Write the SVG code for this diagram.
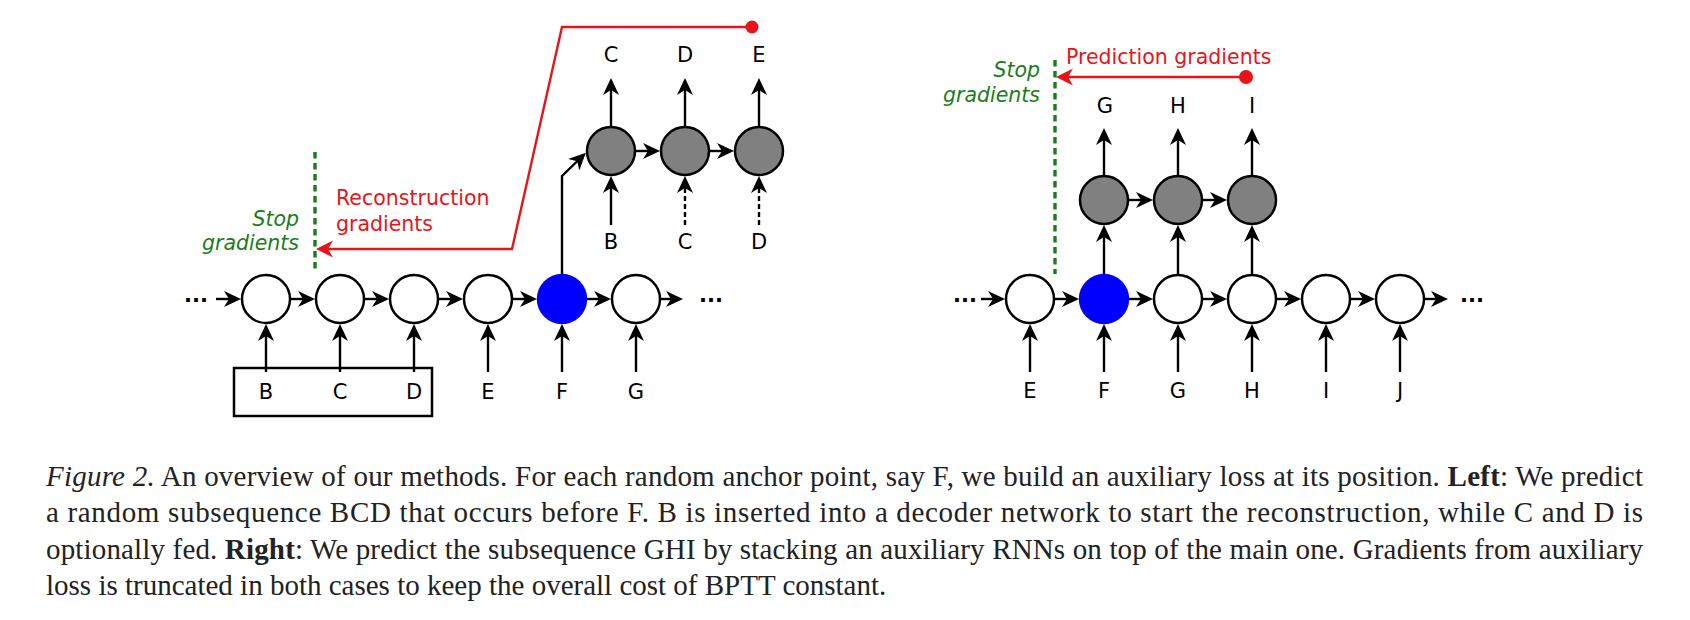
<svg xmlns="http://www.w3.org/2000/svg" width="1690" height="620" viewBox="0 0 1690 620">
<style>
.n{fill:#fff;stroke:#000;stroke-width:2.5}
.g{fill:#808080;stroke:#000;stroke-width:2.5}
.b{fill:#0000ff;stroke:none}
.e{fill:none;stroke:#000;stroke-width:2.4;marker-end:url(#ah)}
.d{fill:none;stroke:#000;stroke-width:2.4;stroke-dasharray:5 3;marker-end:url(#ah)}
.r{fill:none;stroke:#e8141a;stroke-width:2.4;stroke-linejoin:miter;marker-end:url(#ar)}
.sg{stroke:#1b7c1b;stroke-width:3.4;stroke-dasharray:6.5 4.5}
.t{font-family:"DejaVu Sans","Liberation Sans",sans-serif;font-size:21px;fill:#000;text-anchor:middle}
.dots{font-family:"DejaVu Sans",sans-serif;font-size:21px;font-weight:bold;fill:#000;text-anchor:middle}
.gr{font-family:"DejaVu Sans",sans-serif;font-size:20.5px;font-style:italic;fill:#1b7c1b;text-anchor:end}
.rd{font-family:"DejaVu Sans",sans-serif;font-size:20.5px;fill:#e8141a}
.cap{font-family:"Liberation Serif","Times New Roman",serif;font-size:29px;fill:#222}
</style>
<defs>
<marker id="ah" markerUnits="userSpaceOnUse" markerWidth="20" markerHeight="20" viewBox="0 -10 20 20" refX="6" refY="0" orient="auto"><path d="M0,-8 L17,0 L0,8 L5,0 Z" fill="#000"/></marker>
<marker id="ar" markerUnits="userSpaceOnUse" markerWidth="20" markerHeight="20" viewBox="0 -10 20 20" refX="5" refY="0" orient="auto"><path d="M0,-8.5 L17,0 L0,8.5 L5,0 Z" fill="#e8141a"/></marker>
</defs>

<g id="connectors">
<line class="e" x1="216" y1="299" x2="230" y2="299"/>
<line class="e" x1="291" y1="299" x2="304" y2="299"/>
<line class="e" x1="365" y1="299" x2="378" y2="299"/>
<line class="e" x1="439" y1="299" x2="452" y2="299"/>
<line class="e" x1="513" y1="299" x2="526" y2="299"/>
<line class="e" x1="587" y1="299" x2="600" y2="299"/>
<line class="e" x1="661" y1="299" x2="672" y2="299"/>
<line class="e" x1="266" y1="372" x2="266" y2="335"/>
<line class="e" x1="340" y1="372" x2="340" y2="335"/>
<line class="e" x1="414" y1="372" x2="414" y2="335"/>
<line class="e" x1="488" y1="372" x2="488" y2="335"/>
<line class="e" x1="562" y1="372" x2="562" y2="335"/>
<line class="e" x1="636" y1="372" x2="636" y2="335"/>
<path class="e" d="M562,275 L562,176 L578,160.5"/>
<line class="e" x1="636" y1="151" x2="649" y2="151"/>
<line class="e" x1="710" y1="151" x2="723" y2="151"/>
<line class="e" x1="611" y1="126" x2="611" y2="89"/>
<line class="e" x1="685" y1="126" x2="685" y2="89"/>
<line class="e" x1="759" y1="126" x2="759" y2="89"/>
<line class="e" x1="611" y1="225" x2="611" y2="187"/>
<line class="d" x1="685" y1="225" x2="685" y2="187"/>
<line class="d" x1="759" y1="225" x2="759" y2="187"/>
<line class="sg" x1="315" y1="152" x2="315" y2="273"/>
<path class="r" d="M752,27 L562,27 L512,249 L328,249"/>
<circle cx="752" cy="27" r="6.5" fill="#e8141a"/>
<line class="e" x1="981" y1="299" x2="994" y2="299"/>
<line class="e" x1="1055" y1="299" x2="1068" y2="299"/>
<line class="e" x1="1129" y1="299" x2="1142" y2="299"/>
<line class="e" x1="1203" y1="299" x2="1216" y2="299"/>
<line class="e" x1="1277" y1="299" x2="1290" y2="299"/>
<line class="e" x1="1351" y1="299" x2="1364" y2="299"/>
<line class="e" x1="1425" y1="299" x2="1437" y2="299"/>
<line class="e" x1="1030" y1="372" x2="1030" y2="335"/>
<line class="e" x1="1104" y1="372" x2="1104" y2="335"/>
<line class="e" x1="1178" y1="372" x2="1178" y2="335"/>
<line class="e" x1="1252" y1="372" x2="1252" y2="335"/>
<line class="e" x1="1326" y1="372" x2="1326" y2="335"/>
<line class="e" x1="1400" y1="372" x2="1400" y2="335"/>
<line class="e" x1="1104" y1="274" x2="1104" y2="236"/>
<line class="e" x1="1178" y1="274" x2="1178" y2="236"/>
<line class="e" x1="1252" y1="274" x2="1252" y2="236"/>
<line class="e" x1="1129" y1="200" x2="1142" y2="200"/>
<line class="e" x1="1203" y1="200" x2="1216" y2="200"/>
<line class="e" x1="1104" y1="175" x2="1104" y2="139"/>
<line class="e" x1="1178" y1="175" x2="1178" y2="139"/>
<line class="e" x1="1252" y1="175" x2="1252" y2="139"/>
<line class="sg" x1="1055" y1="60" x2="1055" y2="274"/>
<path class="r" d="M1246,77 L1068,77"/>
<circle cx="1246" cy="77" r="7" fill="#e8141a"/>
</g>

<g id="L-dots-in"><text class="dots" x="196" y="302">...</text></g>
<g id="L-h1"><circle class="n" cx="266" cy="299" r="24"/></g>
<g id="L-h2"><circle class="n" cx="340" cy="299" r="24"/></g>
<g id="L-h3"><circle class="n" cx="414" cy="299" r="24"/></g>
<g id="L-h4"><circle class="n" cx="488" cy="299" r="24"/></g>
<g id="L-h5"><circle class="b" cx="562" cy="299" r="25.2"/></g>
<g id="L-h6"><circle class="n" cx="636" cy="299" r="24"/></g>
<g id="L-dots-out"><text class="dots" x="711" y="302">...</text></g>
<g id="L-box"><rect x="234" y="368" width="198" height="48" fill="none" stroke="#000" stroke-width="2.5"/></g>
<g id="L-inputs">
<text class="t" x="266" y="399">B</text>
<text class="t" x="340" y="399">C</text>
<text class="t" x="414" y="399">D</text>
<text class="t" x="488" y="399">E</text>
<text class="t" x="562" y="399">F</text>
<text class="t" x="636" y="399">G</text>
</g>
<g id="L-d1"><circle class="g" cx="611" cy="151" r="24"/></g>
<g id="L-d2"><circle class="g" cx="685" cy="151" r="24"/></g>
<g id="L-d3"><circle class="g" cx="759" cy="151" r="24"/></g>
<g id="L-dec-out">
<text class="t" x="611" y="62">C</text>
<text class="t" x="685" y="62">D</text>
<text class="t" x="759" y="62">E</text>
</g>
<g id="L-dec-in">
<text class="t" x="611" y="249">B</text>
<text class="t" x="685" y="249">C</text>
<text class="t" x="759" y="249">D</text>
</g>
<g id="L-stop">
<text class="gr" x="299" y="226">Stop</text>
<text class="gr" x="299" y="250">gradients</text>
</g>
<g id="L-recon">
<text class="rd" x="336" y="205">Reconstruction</text>
<text class="rd" x="336" y="230.5">gradients</text>
</g>

<g id="R-dots-in"><text class="dots" x="965" y="302">...</text></g>
<g id="R-h1"><circle class="n" cx="1030" cy="299" r="24"/></g>
<g id="R-h2"><circle class="b" cx="1104" cy="299" r="25.2"/></g>
<g id="R-h3"><circle class="n" cx="1178" cy="299" r="24"/></g>
<g id="R-h4"><circle class="n" cx="1252" cy="299" r="24"/></g>
<g id="R-h5"><circle class="n" cx="1326" cy="299" r="24"/></g>
<g id="R-h6"><circle class="n" cx="1400" cy="299" r="24"/></g>
<g id="R-dots-out"><text class="dots" x="1472" y="302">...</text></g>
<g id="R-inputs">
<text class="t" x="1030" y="398">E</text>
<text class="t" x="1104" y="398">F</text>
<text class="t" x="1178" y="398">G</text>
<text class="t" x="1252" y="398">H</text>
<text class="t" x="1326" y="398">I</text>
<text class="t" x="1400" y="398">J</text>
</g>
<g id="R-a1"><circle class="g" cx="1104" cy="200" r="24"/></g>
<g id="R-a2"><circle class="g" cx="1178" cy="200" r="24"/></g>
<g id="R-a3"><circle class="g" cx="1252" cy="200" r="24"/></g>
<g id="R-aux-out">
<text class="t" x="1105" y="113">G</text>
<text class="t" x="1178" y="113">H</text>
<text class="t" x="1252" y="113">I</text>
</g>
<g id="R-stop">
<text class="gr" x="1040" y="77">Stop</text>
<text class="gr" x="1040" y="102">gradients</text>
</g>
<g id="R-pred"><text class="rd" x="1066" y="64">Prediction gradients</text></g>

<g id="caption" class="cap">
<text x="46" y="486" textLength="1597" lengthAdjust="spacing"><tspan font-style="italic">Figure 2.</tspan> An overview of our methods. For each random anchor point, say F, we build an auxiliary loss at its position. <tspan font-weight="bold">Left</tspan>: We predict</text>
<text x="46" y="522" textLength="1597" lengthAdjust="spacing">a random subsequence BCD that occurs before F. B is inserted into a decoder network to start the reconstruction, while C and D is</text>
<text x="46" y="558.5" textLength="1597" lengthAdjust="spacing">optionally fed. <tspan font-weight="bold">Right</tspan>: We predict the subsequence GHI by stacking an auxiliary RNNs on top of the main one. Gradients from auxiliary</text>
<text x="46" y="595">loss is truncated in both cases to keep the overall cost of BPTT constant.</text>
</g>
</svg>
